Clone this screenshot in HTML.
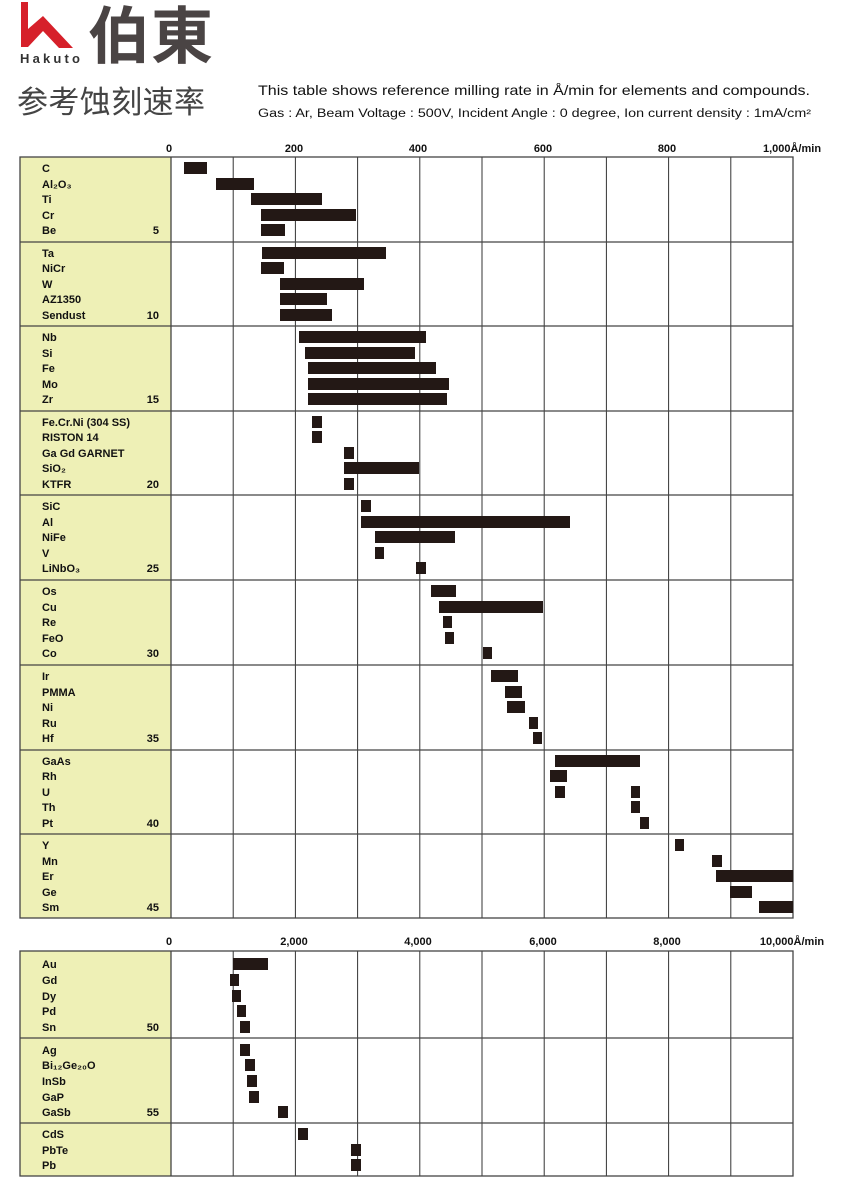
<!DOCTYPE html>
<html><head><meta charset="utf-8"><style>
body{margin:0;background:#fff;width:843px;height:1200px;overflow:hidden}
svg{position:absolute;left:0;top:0}
</style></head><body>
<svg width="843" height="1200" xmlns="http://www.w3.org/2000/svg" font-family="Liberation Sans, sans-serif">
<!-- logo -->
<path d="M21 2 L28 2 L28 29 L43 16 L73 48 L59 48 L43 31 L28 47 L21 47 Z" fill="#d6202a"/>
<text x="20" y="63" font-size="13" font-weight="bold" fill="#333" textLength="60">Hakuto</text>
<text x="88" y="58" font-size="62" font-weight="bold" fill="#4a4444" font-family="Noto Sans CJK SC, sans-serif" textLength="125">伯東</text>
<text x="17" y="113" font-size="31" fill="#444" font-family="Noto Sans CJK SC, sans-serif" textLength="188">参考蚀刻速率</text>
<text x="258" y="95" font-size="14" fill="#111" textLength="552" lengthAdjust="spacingAndGlyphs">This table shows reference milling rate in Å/min for elements and compounds.</text>
<text x="258" y="117" font-size="11.5" fill="#111" textLength="553" lengthAdjust="spacingAndGlyphs">Gas : Ar, Beam Voltage : 500V, Incident Angle : 0 degree, Ion current density : 1mA/cm²</text>

<!-- top axis labels -->
<g font-size="11" font-weight="bold" fill="#111" text-anchor="middle">
<text x="169" y="152">0</text><text x="294" y="152">200</text><text x="418" y="152">400</text><text x="543" y="152">600</text><text x="667" y="152">800</text><text x="792" y="152">1,000Å/min</text>
<text x="169" y="945">0</text><text x="294" y="945">2,000</text><text x="418" y="945">4,000</text><text x="543" y="945">6,000</text><text x="667" y="945">8,000</text><text x="792" y="945">10,000Å/min</text>
</g>

<!-- label columns -->
<rect x="20" y="157" width="151" height="761" fill="#eef0b6"/>
<rect x="20" y="951" width="151" height="225" fill="#eef0b6"/>

<!-- grid lines -->
<g stroke="#333" stroke-width="1">
<line x1="233.2" y1="157" x2="233.2" y2="918"/><line x1="295.4" y1="157" x2="295.4" y2="918"/><line x1="357.6" y1="157" x2="357.6" y2="918"/><line x1="419.8" y1="157" x2="419.8" y2="918"/><line x1="482" y1="157" x2="482" y2="918"/><line x1="544.2" y1="157" x2="544.2" y2="918"/><line x1="606.4" y1="157" x2="606.4" y2="918"/><line x1="668.6" y1="157" x2="668.6" y2="918"/><line x1="730.8" y1="157" x2="730.8" y2="918"/>
<line x1="233.2" y1="951" x2="233.2" y2="1176"/><line x1="295.4" y1="951" x2="295.4" y2="1176"/><line x1="357.6" y1="951" x2="357.6" y2="1176"/><line x1="419.8" y1="951" x2="419.8" y2="1176"/><line x1="482" y1="951" x2="482" y2="1176"/><line x1="544.2" y1="951" x2="544.2" y2="1176"/><line x1="606.4" y1="951" x2="606.4" y2="1176"/><line x1="668.6" y1="951" x2="668.6" y2="1176"/><line x1="730.8" y1="951" x2="730.8" y2="1176"/>
</g>
<g stroke="#444" stroke-width="1.3" fill="none">
<rect x="20" y="157" width="773" height="761"/>
<line x1="171" y1="157" x2="171" y2="918"/>
<line x1="20" y1="242" x2="793" y2="242"/><line x1="20" y1="326" x2="793" y2="326"/><line x1="20" y1="411" x2="793" y2="411"/><line x1="20" y1="495" x2="793" y2="495"/><line x1="20" y1="580" x2="793" y2="580"/><line x1="20" y1="665" x2="793" y2="665"/><line x1="20" y1="750" x2="793" y2="750"/><line x1="20" y1="834" x2="793" y2="834"/>
<rect x="20" y="951" width="773" height="225"/>
<line x1="171" y1="951" x2="171" y2="1176"/>
<line x1="20" y1="1038" x2="793" y2="1038"/><line x1="20" y1="1123" x2="793" y2="1123"/>
</g>

<!-- labels -->
<g font-size="11" font-weight="bold" fill="#111">
<text x="42" y="172">C</text><text x="42" y="188">Al₂O₃</text><text x="42" y="203">Ti</text><text x="42" y="219">Cr</text><text x="42" y="234">Be</text>
<text x="42" y="257">Ta</text><text x="42" y="272">NiCr</text><text x="42" y="288">W</text><text x="42" y="303">AZ1350</text><text x="42" y="319">Sendust</text>
<text x="42" y="341">Nb</text><text x="42" y="357">Si</text><text x="42" y="372">Fe</text><text x="42" y="388">Mo</text><text x="42" y="403">Zr</text>
<text x="42" y="426">Fe.Cr.Ni (304 SS)</text><text x="42" y="441">RISTON 14</text><text x="42" y="457">Ga Gd GARNET</text><text x="42" y="472">SiO₂</text><text x="42" y="488">KTFR</text>
<text x="42" y="510">SiC</text><text x="42" y="526">Al</text><text x="42" y="541">NiFe</text><text x="42" y="557">V</text><text x="42" y="572">LiNbO₃</text>
<text x="42" y="595">Os</text><text x="42" y="611">Cu</text><text x="42" y="626">Re</text><text x="42" y="642">FeO</text><text x="42" y="657">Co</text>
<text x="42" y="680">Ir</text><text x="42" y="696">PMMA</text><text x="42" y="711">Ni</text><text x="42" y="727">Ru</text><text x="42" y="742">Hf</text>
<text x="42" y="765">GaAs</text><text x="42" y="780">Rh</text><text x="42" y="796">U</text><text x="42" y="811">Th</text><text x="42" y="827">Pt</text>
<text x="42" y="849">Y</text><text x="42" y="865">Mn</text><text x="42" y="880">Er</text><text x="42" y="896">Ge</text><text x="42" y="911">Sm</text>
<text x="42" y="968">Au</text><text x="42" y="984">Gd</text><text x="42" y="1000">Dy</text><text x="42" y="1015">Pd</text><text x="42" y="1031">Sn</text>
<text x="42" y="1054">Ag</text><text x="42" y="1069">Bi₁₂Ge₂₀O</text><text x="42" y="1085">InSb</text><text x="42" y="1101">GaP</text><text x="42" y="1116">GaSb</text>
<text x="42" y="1138">CdS</text><text x="42" y="1154">PbTe</text><text x="42" y="1169">Pb</text>
</g>
<g font-size="11" font-weight="bold" fill="#111" text-anchor="end">
<text x="159" y="234">5</text><text x="159" y="319">10</text><text x="159" y="403">15</text><text x="159" y="488">20</text><text x="159" y="572">25</text><text x="159" y="657">30</text><text x="159" y="742">35</text><text x="159" y="827">40</text><text x="159" y="911">45</text><text x="159" y="1031">50</text><text x="159" y="1116">55</text>
</g>

<!-- bars -->
<g fill="#231815">
<rect x="184" y="162" width="23" height="12"/><rect x="216" y="178" width="38" height="12"/><rect x="251" y="193" width="71" height="12"/><rect x="261" y="209" width="95" height="12"/><rect x="261" y="224" width="24" height="12"/>
<rect x="262" y="247" width="124" height="12"/><rect x="261" y="262" width="23" height="12"/><rect x="280" y="278" width="84" height="12"/><rect x="280" y="293" width="47" height="12"/><rect x="280" y="309" width="52" height="12"/>
<rect x="299" y="331" width="127" height="12"/><rect x="305" y="347" width="110" height="12"/><rect x="308" y="362" width="128" height="12"/><rect x="308" y="378" width="141" height="12"/><rect x="308" y="393" width="139" height="12"/>
<rect x="312" y="416" width="10" height="12"/><rect x="312" y="431" width="10" height="12"/><rect x="344" y="447" width="10" height="12"/><rect x="344" y="462" width="75" height="12"/><rect x="344" y="478" width="10" height="12"/>
<rect x="361" y="500" width="10" height="12"/><rect x="361" y="516" width="209" height="12"/><rect x="375" y="531" width="80" height="12"/><rect x="375" y="547" width="9" height="12"/><rect x="416" y="562" width="10" height="12"/>
<rect x="431" y="585" width="25" height="12"/><rect x="439" y="601" width="104" height="12"/><rect x="443" y="616" width="9" height="12"/><rect x="445" y="632" width="9" height="12"/><rect x="483" y="647" width="9" height="12"/>
<rect x="491" y="670" width="27" height="12"/><rect x="505" y="686" width="17" height="12"/><rect x="507" y="701" width="18" height="12"/><rect x="529" y="717" width="9" height="12"/><rect x="533" y="732" width="9" height="12"/>
<rect x="555" y="755" width="85" height="12"/><rect x="550" y="770" width="17" height="12"/><rect x="555" y="786" width="10" height="12"/><rect x="631" y="786" width="9" height="12"/><rect x="631" y="801" width="9" height="12"/><rect x="640" y="817" width="9" height="12"/>
<rect x="675" y="839" width="9" height="12"/><rect x="712" y="855" width="10" height="12"/><rect x="716" y="870" width="77" height="12"/><rect x="730" y="886" width="22" height="12"/><rect x="759" y="901" width="34" height="12"/>
<rect x="233" y="958" width="35" height="12"/><rect x="230" y="974" width="9" height="12"/><rect x="232" y="990" width="9" height="12"/><rect x="237" y="1005" width="9" height="12"/><rect x="240" y="1021" width="10" height="12"/>
<rect x="240" y="1044" width="10" height="12"/><rect x="245" y="1059" width="10" height="12"/><rect x="247" y="1075" width="10" height="12"/><rect x="249" y="1091" width="10" height="12"/><rect x="278" y="1106" width="10" height="12"/>
<rect x="298" y="1128" width="10" height="12"/><rect x="351" y="1144" width="10" height="12"/><rect x="351" y="1159" width="10" height="12"/>
</g>
</svg>
</body></html>
